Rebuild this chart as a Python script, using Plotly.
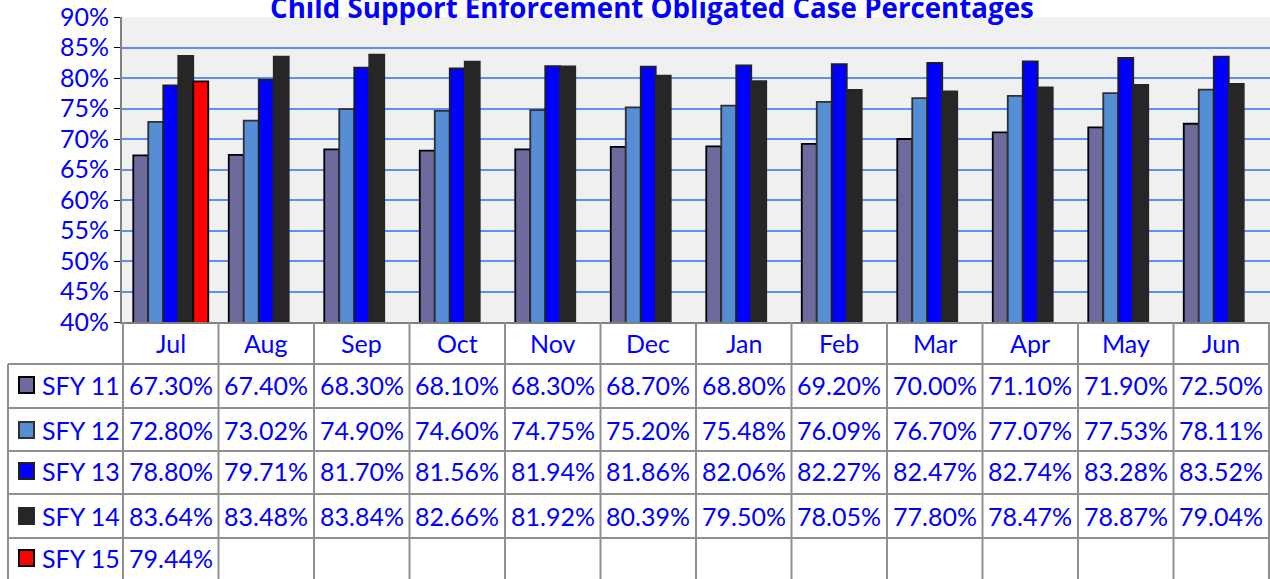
import plotly.graph_objects as go

months = ["Jul", "Aug", "Sep", "Oct", "Nov", "Dec", "Jan", "Feb", "Mar", "Apr", "May", "Jun"]
series_names = ["SFY 11", "SFY 12", "SFY 13", "SFY 14", "SFY 15"]
sfy11 = [67.30, 67.40, 68.30, 68.10, 68.30, 68.70, 68.80, 69.20, 70.00, 71.10, 71.90, 72.50]
sfy12 = [72.80, 73.02, 74.90, 74.60, 74.75, 75.20, 75.48, 76.09, 76.70, 77.07, 77.53, 78.11]
sfy13 = [78.80, 79.71, 81.70, 81.56, 81.94, 81.86, 82.06, 82.27, 82.47, 82.74, 83.28, 83.52]
sfy14 = [83.64, 83.48, 83.84, 82.66, 81.92, 80.39, 79.50, 78.05, 77.80, 78.47, 78.87, 79.04]
sfy15 = [79.44, None, None, None, None, None, None, None, None, None, None, None]
title = "Child Support Enforcement Obligated Case Percentages"

series = [sfy11, sfy12, sfy13, sfy14, sfy15]
fills = ["#6D6A9D", "#558ED5", "#0000FF", "#262626", "#FF0000"]
edges = ["#000000", "#303030", "#202020", "#262626", "#000000"]

W, H = 1270, 579
L, R, T, B = 122, 0, 17, 257
PW, PH = W - L - R, H - T - B
BLUE = "#0000FF"
FONT = "Lato"
GRID = "#8F8F8F"


def py(p):
    return (H - B - p) / PH


def px(p):
    return (p - L) / PW


fig = go.Figure()
for name, vals, fc, ec in zip(series_names, series, fills, edges):
    fig.add_trace(go.Bar(x=months, y=vals, name=name,
                         marker=dict(color=fc, line=dict(color=ec, width=1.8))))

shapes = []
annotations = []

# table grid lines
row_lines = [364, 408, 451, 494, 538]
for rl in row_lines:
    shapes.append(dict(type="line", xref="paper", yref="paper", x0=px(8), x1=1.0,
                       y0=py(rl), y1=py(rl), line=dict(color=GRID, width=2)))
for i in range(len(months) + 1):
    shapes.append(dict(type="line", xref="x", yref="paper", x0=i - 0.5, x1=i - 0.5,
                       y0=0, y1=py(585), line=dict(color=GRID, width=2)))
shapes.append(dict(type="line", xref="paper", yref="paper", x0=px(8), x1=px(8),
                   y0=py(364), y1=py(585), line=dict(color=GRID, width=2)))

# month header labels
for m in months:
    annotations.append(dict(x=m, xref="x", y=py(343), yref="paper", text=m, showarrow=False,
                            font=dict(family=FONT, size=25, color=BLUE), yanchor="middle"))

row_centers = [385, 430, 471, 516, 558]
for name, vals, fc, ec, rc in zip(series_names, series, fills, edges, row_centers):
    shapes.append(dict(type="rect", xref="paper", yref="paper", x0=px(19), x1=px(34),
                       y0=py(rc + 8), y1=py(rc - 8), fillcolor=fc,
                       line=dict(color=ec, width=2)))
    annotations.append(dict(x=px(40), xref="paper", y=py(rc), yref="paper", text=name,
                            showarrow=False, xanchor="left", yanchor="middle",
                            font=dict(family=FONT, size=25, color=BLUE)))
    for m, v in zip(months, vals):
        if v is None:
            continue
        annotations.append(dict(x=m, xref="x", y=py(rc), yref="paper", text=f"{v:.2f}%",
                                showarrow=False, yanchor="middle",
                                font=dict(family=FONT, size=25, color=BLUE)))

annotations.append(dict(x=px(652), xref="paper", y=py(7), yref="paper",
                        text=f"<b>{title}</b>", showarrow=False, yanchor="middle",
                        font=dict(family="Open Sans", size=27.7, color=BLUE)))

fig.update_layout(
    width=W, height=H,
    margin=dict(l=L, r=R, t=T, b=B, pad=0),
    paper_bgcolor="white",
    plot_bgcolor="#F0F0F0",
    barmode="group",
    bargap=0.215,
    bargroupgap=0,
    showlegend=False,
    shapes=shapes,
    annotations=annotations,
    xaxis=dict(showticklabels=False, showgrid=False, showline=True, linecolor="#808080",
               linewidth=2, ticks=""),
    yaxis=dict(range=[40, 90], dtick=5, ticksuffix="%", showgrid=True,
               gridcolor="#5B8FF9", gridwidth=2, showline=True, linecolor="#808080",
               linewidth=2, ticks="outside", ticklen=6, tickcolor="#000000",
               tickfont=dict(family=FONT, size=25, color=BLUE), zeroline=False),
)

fig.write_html("out.html", config={"displayModeBar": False},
               post_script="document.body.style.margin='0';document.body.style.overflow='hidden';")
